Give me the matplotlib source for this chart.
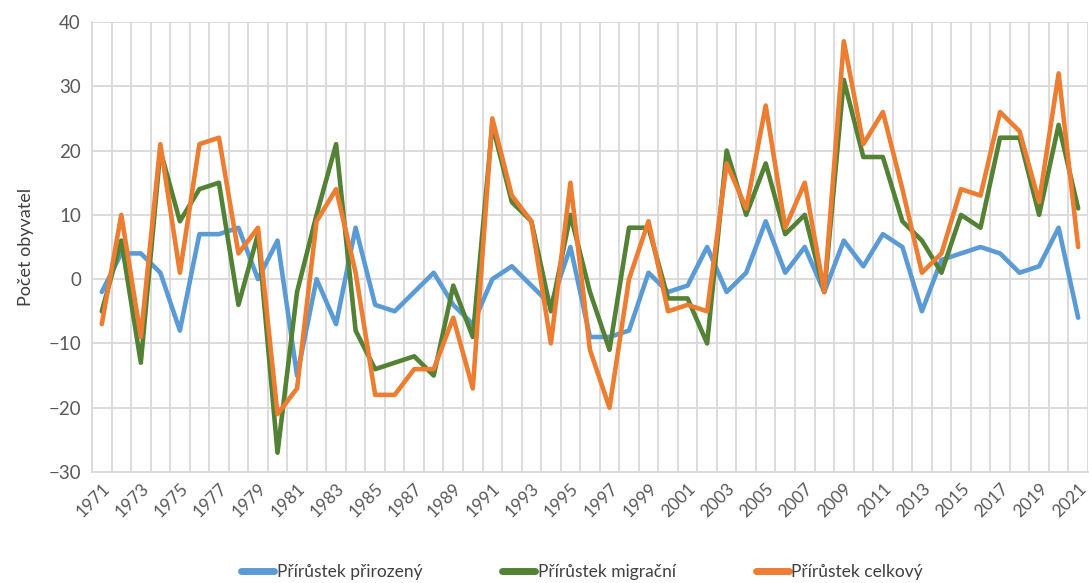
import matplotlib
matplotlib.use("Agg")
import matplotlib.pyplot as plt
from matplotlib.ticker import MultipleLocator, FixedLocator

years = list(range(1971, 2022))
prirozeny = [-2, 4, 4, 1, -8, 7, 7, 8, 0, 6,
             -15, 0, -7, 8, -4, -5, -2, 1, -4, -7,
             0, 2, -1, -4, 5, -9, -9, -8, 1, -2,
             -1, 5, -2, 1, 9, 1, 5, -2, 6, 2,
             7, 5, -5, 3, 4, 5, 4, 1, 2, 8,
             -6]
migracni = [-5, 6, -13, 20, 9, 14, 15, -4, 7, -27,
            -2, 10, 21, -8, -14, -13, -12, -15, -1, -9,
            24, 12, 9, -5, 10, -2, -11, 8, 8, -3,
            -3, -10, 20, 10, 18, 7, 10, -2, 31, 19,
            19, 9, 6, 1, 10, 8, 22, 22, 10, 24,
            11]
celkovy = [-7, 10, -9, 21, 1, 21, 22, 4, 8, -21,
           -17, 9, 14, 1, -18, -18, -14, -14, -6, -17,
           25, 13, 9, -10, 15, -11, -20, 0, 9, -5,
           -4, -5, 18, 11, 27, 8, 15, -2, 37, 21,
           26, 14, 1, 4, 14, 13, 26, 23, 12, 32,
           5]
series_names = ["Přírůstek přirozený", "Přírůstek migrační", "Přírůstek celkový"]
series_colors = ["#5B9BD5", "#548235", "#ED7D31"]
y_label = "Počet obyvatel"

plt.rcParams['font.family'] = ['Lato', 'DejaVu Sans']

fig = plt.figure(figsize=(10.89, 5.83), dpi=100)
ax = fig.add_axes([92/1089, 1 - 472/583, 1 - 92/1089 - 0.001, (472 - 22)/583])

x = list(range(len(years)))
for vals, name, col in zip([prirozeny, migracni, celkovy], series_names, series_colors):
    ax.plot(x, vals, color=col, lw=3.3, label=name,
            solid_joinstyle='round', solid_capstyle='round', zorder=3)

ax.set_xlim(-0.5, len(years) - 0.5)
ax.set_ylim(-30, 40)
ax.yaxis.set_major_locator(MultipleLocator(10))

ax.set_xticks(x[::2])
ax.set_xticklabels([str(y) for y in years[::2]], rotation=45, ha='right',
                   rotation_mode='anchor', fontsize=12.5, color='#595959')
ax.xaxis.set_minor_locator(FixedLocator([i - 0.5 for i in range(len(years) + 1)]))
ax.tick_params(axis='x', which='both', length=0, pad=6)
ax.tick_params(axis='y', length=0, labelsize=13.5, labelcolor='#595959', pad=8)

ax.grid(True, axis='y', which='major', color='#D9D9D9', lw=1.3, zorder=0)
ax.grid(True, axis='x', which='minor', color='#D9D9D9', lw=1.3, zorder=0)
ax.grid(False, axis='x', which='major')

for s in ['top', 'right']:
    ax.spines[s].set_visible(False)
for s in ['left', 'bottom']:
    ax.spines[s].set_color('#D9D9D9')
    ax.spines[s].set_linewidth(1.3)

ax.set_ylabel(y_label, fontsize=13, color='#404040', labelpad=10)

leg = fig.legend(loc='center', bbox_to_anchor=(582/1089, 1 - 572/583), ncol=3,
                 frameon=False, fontsize=12.5, handlelength=1.9, columnspacing=4.6,
                 handletextpad=0.15, labelcolor='#404040')
for h in leg.get_lines():
    h.set_linewidth(5)
    h.set_solid_capstyle('round')

fig.savefig("out.png", dpi=100)
